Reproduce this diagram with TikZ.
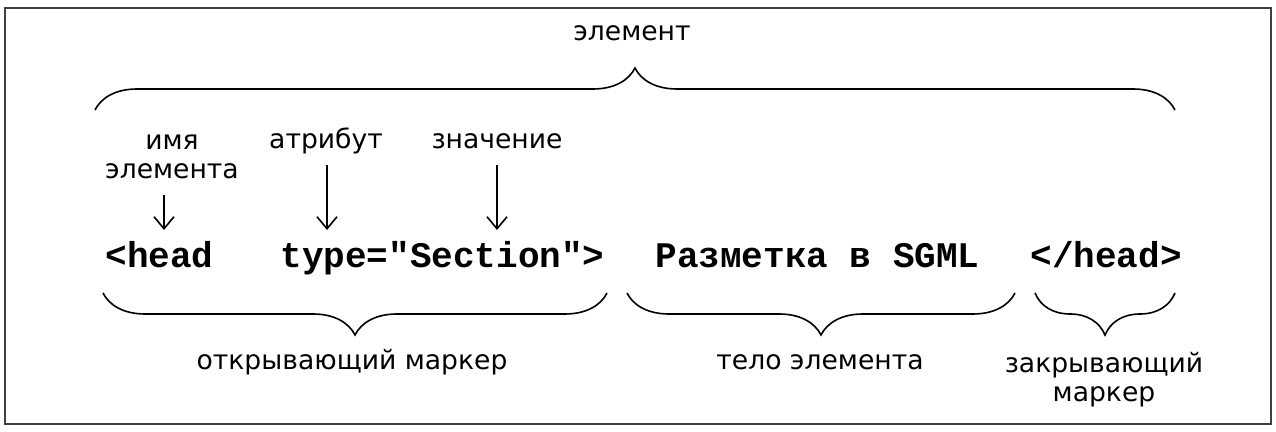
\documentclass[tikz,border=0pt]{standalone}
\usepackage{fontspec}
\setmainfont{DejaVu Sans}
\newfontfamily\codefont{Liberation Mono}
\usetikzlibrary{positioning,decorations.pathreplacing,arrows.meta}

\tikzset{
  lbl/.style={font=\fontsize{13.3}{14.5}\selectfont, inner sep=0pt, align=center},
  code/.style={font=\codefont\bfseries\fontsize{18}{20}\selectfont, inner sep=0pt, anchor=base west},
  brc/.style={decorate, decoration={brace, amplitude=21pt}, line width=0.8pt},
  ptr/.style={-{Straight Barb[length=6pt,width=10pt]}, line width=0.8pt},
}

\begin{document}
\begin{tikzpicture}[x=0.5pt,y=-0.5pt]
            \useasboundingbox (0,0) rectangle (1276,432);
            \draw[line width=1pt, black!75] (5,8) rectangle (1271,424);

            \node (head) [code] at (105,268) {<head};
            \node (type) [code] at (280,268) {type="Section">};
            \node (body) [code] at (655,268) {Разметка в SGML};
            \node (close) [code] at (1030,268) {</head>};

            \node (el) [lbl] at (632,33) {элемент};
            \node (nm) [lbl] at (172,157) {имя\\элемента};
            \node (attr) [lbl] at (326,141) {атрибут};
            \node (val) [lbl] at (497,141) {значение};

            \node (openlbl) [lbl] at (352,362) {открывающий маркер};
            \node (bodylbl) [lbl] at (820,362) {тело элемента};
            \node (closelbl) [lbl] at (1104,380) {закрывающий\\маркер};

            \coordinate (nmtop) at (164,195);
            \coordinate (nmend) at (164,230);
            \coordinate (attrtop) at (327,165);
            \coordinate (attrend) at (327,230);
            \coordinate (valtop) at (497,165);
            \coordinate (valend) at (497,230);

            \draw[ptr] (nmtop) -- (nmend);
            \draw[ptr] (attrtop) -- (attrend);
            \draw[ptr] (valtop) -- (valend);

            \draw[brc] (95,110) -- (1175,110);
            \draw[brc] (607,293) -- (103,293);
            \draw[brc] (1015,293) -- (627,293);
            \draw[brc] (1175,293) -- (1035,293);

        \end{tikzpicture}
\end{document}
